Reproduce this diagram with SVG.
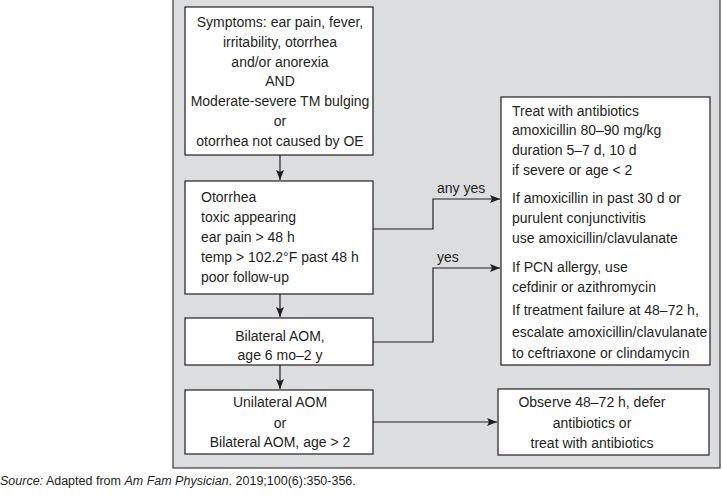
<svg xmlns="http://www.w3.org/2000/svg" width="722" height="499" viewBox="0 0 722 499">
<defs>
<style>
.t{font-family:"Liberation Sans",Arial,sans-serif;font-size:14px;fill:#231f20}
.c{text-anchor:middle}
.box{fill:#fff;stroke:#231f20;stroke-width:1.2}
.ln{fill:none;stroke:#231f20;stroke-width:1.2}
</style>
<marker id="ah" viewBox="0 0 10 8" refX="10" refY="4" markerWidth="10" markerHeight="8" markerUnits="userSpaceOnUse" orient="auto">
<path d="M0,0 L10,4 L0,8 L2,4 Z" fill="#231f20"/>
</marker>
</defs>
<rect width="722" height="499" fill="#fff"/>
<rect x="173" y="-1" width="547" height="469" fill="#dcdddf" stroke="#3a3a3a" stroke-width="1.2"/>

<g id="symptoms">
<rect class="box" x="185" y="7" width="188" height="148"/>
<text class="t c" x="280" y="27">Symptoms: ear pain, fever,</text>
<text class="t c" x="280" y="47">irritability, otorrhea</text>
<text class="t c" x="280" y="67">and/or anorexia</text>
<text class="t c" x="280" y="86">AND</text>
<text class="t c" x="280" y="106">Moderate-severe TM bulging</text>
<text class="t c" x="280" y="126">or</text>
<text class="t c" x="280" y="146">otorrhea not caused by OE</text>
</g>

<g id="otorrhea">
<rect class="box" x="185" y="181" width="188" height="113"/>
<text class="t" x="201" y="202">Otorrhea</text>
<text class="t" x="201" y="222">toxic appearing</text>
<text class="t" x="201" y="242">ear pain &gt; 48 h</text>
<text class="t" x="201" y="262">temp &gt; 102.2°F past 48 h</text>
<text class="t" x="201" y="282">poor follow-up</text>
</g>

<g id="bilateral">
<rect class="box" x="185" y="318" width="188" height="47"/>
<text class="t c" x="280" y="341">Bilateral AOM,</text>
<text class="t c" x="280" y="360">age 6 mo–2 y</text>
</g>

<g id="unilateral">
<rect class="box" x="185" y="390" width="188" height="64"/>
<text class="t c" x="280" y="407">Unilateral AOM</text>
<text class="t c" x="280" y="428">or</text>
<text class="t c" x="280" y="447">Bilateral AOM, age &gt; 2</text>
</g>

<g id="treat">
<rect class="box" x="501" y="97" width="209" height="268"/>
<text class="t" x="512" y="116">Treat with antibiotics</text>
<text class="t" x="512" y="135">amoxicillin 80–90 mg/kg</text>
<text class="t" x="512" y="155">duration 5–7 d, 10 d</text>
<text class="t" x="512" y="175">if severe or age &lt; 2</text>
<text class="t" x="512" y="203">If amoxicillin in past 30 d or</text>
<text class="t" x="512" y="223">purulent conjunctivitis</text>
<text class="t" x="512" y="243">use amoxicillin/clavulanate</text>
<text class="t" x="512" y="272">If PCN allergy, use</text>
<text class="t" x="512" y="292">cefdinir or azithromycin</text>
<text class="t" x="512" y="315">If treatment failure at 48–72 h,</text>
<text class="t" x="512" y="337">escalate amoxicillin/clavulanate</text>
<text class="t" x="512" y="358">to ceftriaxone or clindamycin</text>
</g>

<g id="observe">
<rect class="box" x="498" y="389" width="211" height="66"/>
<text class="t c" x="592" y="407">Observe 48–72 h, defer</text>
<text class="t c" x="592" y="428">antibiotics or</text>
<text class="t c" x="592" y="448">treat with antibiotics</text>
</g>

<g id="connectors">
<path class="ln" d="M280,155 V180" marker-end="url(#ah)"/>
<path class="ln" d="M280,294 V317" marker-end="url(#ah)"/>
<path class="ln" d="M280,365 V389" marker-end="url(#ah)"/>
<path class="ln" d="M373,229 H433 V199 H500" marker-end="url(#ah)"/>
<path class="ln" d="M373,342 H433 V268 H500" marker-end="url(#ah)"/>
<path class="ln" d="M373,422 H497" marker-end="url(#ah)"/>
<text class="t" x="437" y="193">any yes</text>
<text class="t" x="437" y="262">yes</text>
</g>

<text x="0" y="485" style="font-family:'Liberation Sans',Arial,sans-serif;font-size:12.5px;fill:#231f20"><tspan font-style="italic">Source:</tspan> Adapted from <tspan font-style="italic">Am Fam Physician</tspan>. 2019;100(6):350-356.</text>
</svg>
